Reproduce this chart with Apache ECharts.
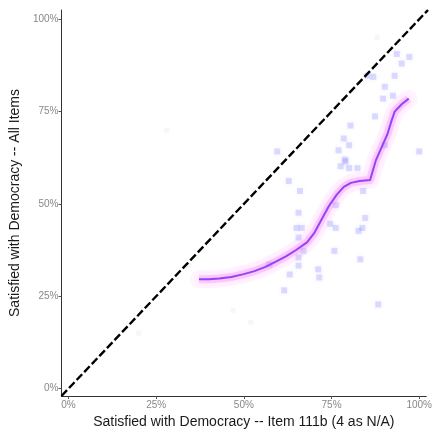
<!DOCTYPE html>
<html>
<head>
<meta charset="utf-8">
<script src="https://cdn.jsdelivr.net/npm/echarts@6/dist/echarts.min.js"></script>
<style>
html,body{margin:0;padding:0;background:#fff;}
#c{width:435px;height:434px;}
</style>
</head>
<body>
<div id="c"></div>
<script>
// Tick values (percent)
const tickValues = [0, 25, 50, 75, 100];

// Scatter: item 111b (x) vs all items (y), percent
const pointsX = [93.6, 97.2, 95.0, 93.0, 90.2, 92.5, 87.4, 80.4, 78.5, 80.0, 77.0, 100.0, 90.2, 59.5, 80.0, 82.4, 79.0, 62.8, 66.0, 84.0, 76.2, 65.6, 84.6, 76.2, 83.8, 65.0, 66.5, 82.7, 65.6, 75.8, 67.0, 65.6, 83.2, 65.6, 71.2, 57.3, 63.1, 71.5, 61.5, 88.3, 86.9, 89.7, 78.8, 77.6, 74.6, 85.2];
const pointsY = [90.6, 89.8, 88.0, 84.7, 81.7, 79.3, 73.7, 71.2, 67.7, 65.9, 64.5, 64.2, 65.9, 64.2, 59.7, 59.7, 61.5, 56.2, 53.5, 53.5, 49.7, 47.6, 46.2, 43.5, 43.5, 43.5, 43.5, 42.7, 40.9, 37.3, 37.3, 35.5, 35.0, 33.3, 32.3, 33.6, 30.9, 30.1, 26.6, 22.8, 84.4, 78.5, 62.0, 60.2, 44.6, 84.7];

// Very faint background points
const faintX = [46.9, 34.4, 20.0, 52.0, 88.0, 28.0];
const faintY = [21.2, 33.3, 15.0, 18.0, 95.0, 70.0];

// Smoothed (loess) curve
const smoothX = [37.2, 40.0, 43.0, 46.4, 50.0, 53.0, 56.0, 59.0, 62.0, 65.0, 68.0, 70.0, 72.0, 74.3, 76.5, 78.5, 80.5, 83.0, 86.0, 87.6, 89.2, 90.9, 92.0, 93.0, 95.0, 97.0];
const smoothY = [29.6, 29.6, 29.8, 30.2, 31.0, 31.8, 32.9, 34.3, 35.8, 37.6, 39.6, 42.0, 45.5, 49.5, 52.5, 54.6, 55.7, 56.2, 56.5, 61.7, 65.2, 68.8, 72.2, 75.0, 77.0, 78.5];

// Identity reference line (y = x) across the panel
const identity = [-2, 102.5];

const zip = (a, b) => a.map((v, i) => [v, b[i]]);

const chart = echarts.init(document.getElementById('c'), null, {renderer: 'canvas'});
const font = 'Liberation Sans, Arial, Helvetica, sans-serif';

function axis(name, min, max, isY) {
  return {
    type: 'value', min: min, max: max,
    name: name, nameLocation: 'middle',
    nameGap: isY ? 36 : 19,
    nameTextStyle: {fontFamily: font, fontSize: 14, color: '#1a1a1a'},
    axisLine: {show: true, onZero: false, lineStyle: {color: '#333', width: 1}},
    axisTick: {show: true, length: 3, customValues: tickValues, lineStyle: {color: '#555'}},
    axisLabel: {customValues: tickValues, formatter: v => v + '%', fontFamily: font, fontSize: 10, color: '#888', margin: isY ? 3 : 4},
    splitLine: {show: false}
  };
}

chart.setOption({
  animation: false,
  backgroundColor: '#fff',
  grid: {left: 61, right: 4, top: 10, bottom: 34, containLabel: false},
  xAxis: axis('Satisfied with Democracy -- Item 111b (4 as N/A)', -2, 102, false),
  yAxis: axis('Satisfied with Democracy -- All Items', -2, 102.5, true),
  series: [
    {
      type: 'scatter', data: zip(faintX, faintY), symbol: 'rect', symbolSize: 5,
      itemStyle: {color: 'rgba(150,150,170,0.10)'}
    },
    {
      type: 'scatter', data: zip(pointsX, pointsY), symbol: 'rect', symbolSize: 6,
      itemStyle: {color: 'rgba(110,110,255,0.28)', shadowBlur: 4, shadowColor: 'rgba(110,110,255,0.4)'}
    },
    {
      type: 'line', data: zip(smoothX, smoothY), showSymbol: false,
      lineStyle: {width: 18, color: 'rgba(255,120,255,0.08)', join: 'round', cap: 'round'}
    },
    {
      type: 'line', data: zip(smoothX, smoothY), showSymbol: false,
      lineStyle: {width: 8, color: 'rgba(240,100,255,0.25)', join: 'round', shadowBlur: 6, shadowColor: 'rgba(255,100,255,0.5)'}
    },
    {
      type: 'line', data: zip(smoothX, smoothY), showSymbol: false,
      lineStyle: {width: 2, color: '#9445f2', join: 'round'}
    },
    {
      type: 'line', data: identity.map(v => [v, v]), showSymbol: false, clip: true,
      lineStyle: {width: 2.4, color: '#000', type: [8, 3]}
    }
  ]
});
</script>
</body>
</html>
